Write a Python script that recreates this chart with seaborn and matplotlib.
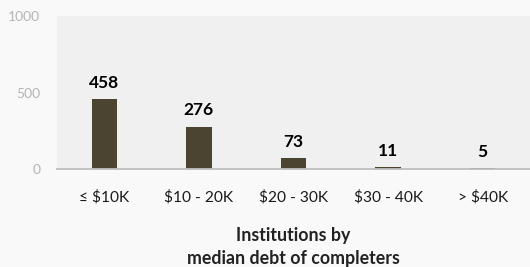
import pandas as pd
import matplotlib
matplotlib.use("Agg")
import matplotlib.pyplot as plt
import seaborn as sns

# Data
categories = ["≤ $10K", "$10 - 20K", "$20 - 30K", "$30 - 40K", "> $40K"]
counts = [458, 276, 73, 11, 5]

df = pd.DataFrame({"bucket": categories, "institutions": counts})

sns.set_style("white")
plt.rcParams["font.family"] = ["Lato", "DejaVu Sans"]

fig = plt.figure(figsize=(5.30, 2.67), dpi=100, facecolor="#f9f9f9")
ax = fig.add_axes([0.1075, 0.367, 0.8925, 0.573])
ax.set_facecolor("#f0f0f0")

sns.barplot(data=df, x="bucket", y="institutions", color="#4a4430",
            width=0.27, saturation=1, linewidth=0, ax=ax)

for i, v in enumerate(counts):
    ax.annotate(str(v), (i, v), xytext=(0, 6), textcoords="offset points",
                ha="center", va="bottom", fontsize=12.5, fontweight="bold",
                color="black")

ax.set_ylim(0, 1000)
ax.set_yticks([0, 500, 1000])
ax.tick_params(axis="y", colors="#b4b4b4", labelsize=10, length=0, pad=12)
ax.tick_params(axis="x", labelsize=11.2, length=0, pad=15, colors="#1a1a1a")

for side in ["top", "right", "left"]:
    ax.spines[side].set_visible(False)
ax.spines["bottom"].set_color("#bfbfbf")
ax.spines["bottom"].set_linewidth(1.3)

ax.set_ylabel("")
ax.set_xlabel("Institutions by\nmedian debt of completers", fontsize=12.8,
              fontweight="bold", color="#222222", labelpad=16, linespacing=1.45)

fig.savefig("out.png", dpi=100, facecolor=fig.get_facecolor())
